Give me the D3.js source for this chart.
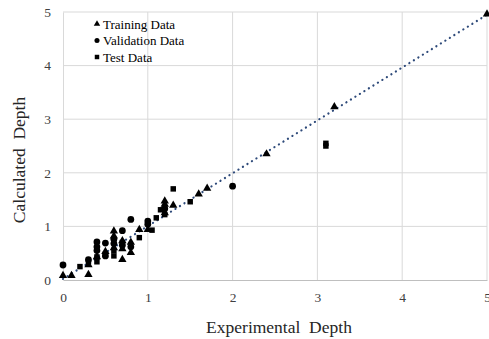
<!DOCTYPE html>
<html>
<head>
<meta charset="utf-8">
<style>
    body { margin: 0; background: #fff; }
    svg { display: block; font-family: 'Liberation Serif', 'Times New Roman', serif; }
</style>
</head>
<body>
<svg width="489" height="339"></svg>
<script src="https://d3js.org/d3.v7.min.js"></script>
<script>
    // values: [experimental, calculated]
    let training = [[0.0, 0.10], [0.1, 0.10], [0.3, 0.12], [0.3, 0.30], [0.4, 0.45], [0.5, 0.55],
        [0.6, 0.93], [0.6, 0.84], [0.6, 0.62], [0.7, 0.40], [0.7, 0.75], [0.7, 0.60], [0.8, 0.53],
        [0.8, 0.72], [0.9, 0.96], [1.0, 0.96], [1.2, 1.49], [1.2, 1.43], [1.3, 1.41], [1.2, 1.27],
        [1.6, 1.62], [1.7, 1.73], [2.4, 2.37], [3.2, 3.25], [5.0, 4.98]];
    let validation = [[0.0, 0.28], [0.3, 0.38], [0.4, 0.71], [0.4, 0.62], [0.4, 0.55], [0.5, 0.69],
        [0.5, 0.45], [0.6, 0.76], [0.6, 0.68], [0.7, 0.92], [0.7, 0.65], [0.8, 1.13], [0.8, 0.62],
        [1.0, 1.10], [1.0, 1.04], [1.2, 1.33], [2.0, 1.75]];
    let test = [[0.2, 0.25], [0.3, 0.34], [0.4, 0.43], [0.4, 0.34], [0.5, 0.48], [0.6, 0.55],
        [0.6, 0.45], [0.7, 0.70], [0.9, 0.79], [1.05, 0.93], [1.1, 1.16], [1.15, 1.31], [1.2, 1.22],
        [1.3, 1.70], [1.5, 1.46], [3.1, 2.50], [3.1, 2.55]];
    let trend = [[0, 0.02], [5, 4.95]];
    let ticks = [0, 1, 2, 3, 4, 5];
    let seriesNames = ["Training Data", "Validation Data", "Test Data"];

    let svg = d3.select("svg");
    let x = d3.scaleLinear().domain([0, 5]).range([63, 487]);
    let y = d3.scaleLinear().domain([0, 5]).range([280, 12]);

    // grid
    svg.append("g").selectAll("line").data(ticks.slice(1)).join("line")
        .attr("x1", d => x(d)).attr("x2", d => x(d))
        .attr("y1", y(0)).attr("y2", y(5))
        .style("stroke", "#d9d9d9").style("stroke-width", 1);
    svg.append("g").selectAll("line").data(ticks.slice(1)).join("line")
        .attr("x1", x(0)).attr("x2", x(5))
        .attr("y1", d => y(d)).attr("y2", d => y(d))
        .style("stroke", "#d9d9d9").style("stroke-width", 1);

    // axes
    let fmt = d3.format("d");
    let xAxis = svg.append("g").attr("transform", "translate(0," + y(0) + ")")
        .call(d3.axisBottom(x).tickValues(ticks).tickFormat(fmt).tickSize(0).tickPadding(12));
    let yAxis = svg.append("g").attr("transform", "translate(" + x(0) + ",0)")
        .call(d3.axisLeft(y).tickValues(ticks).tickFormat(fmt).tickSize(0).tickPadding(12));
    xAxis.select(".domain").style("stroke", "#bfbfbf");
    yAxis.select(".domain").style("stroke", "#d9d9d9");
    svg.selectAll(".tick text").style("font-size", "13.5px").style("fill", "#404040")
        .style("font-family", "'Liberation Serif', serif");

    // trend line
    svg.append("path")
        .datum(trend)
        .attr("d", d3.line().x(d => x(d[0])).y(d => y(d[1])))
        .style("fill", "none")
        .style("stroke", "#2e4a7a")
        .style("stroke-width", 2.2)
        .style("stroke-linecap", "round")
        .style("stroke-dasharray", "0.1 5.2");

    let tri = d3.symbol().type(d3.symbolTriangle).size(30);
    let circ = d3.symbol().type(d3.symbolCircle).size(36);
    let sq = d3.symbol().type(d3.symbolSquare).size(30);

    svg.append("g").selectAll("path").data(validation).join("path")
        .attr("d", circ).attr("transform", d => "translate(" + x(d[0]) + "," + y(d[1]) + ")")
        .style("fill", "#000");
    svg.append("g").selectAll("path").data(test).join("path")
        .attr("d", sq).attr("transform", d => "translate(" + x(d[0]) + "," + y(d[1]) + ")")
        .style("fill", "#000");
    svg.append("g").selectAll("path").data(training).join("path")
        .attr("d", tri).attr("transform", d => "translate(" + x(d[0]) + "," + (y(d[1]) + 1) + ")")
        .style("fill", "#000");

    // legend
    let shapes = [d3.symbol().type(d3.symbolTriangle).size(18), d3.symbol().type(d3.symbolCircle).size(20), d3.symbol().type(d3.symbolSquare).size(20)];
    let legend = svg.append("g").selectAll("g").data(seriesNames).join("g")
        .attr("transform", (d, i) => "translate(97," + (24 + i * 16.5) + ")");
    legend.append("path").attr("d", (d, i) => shapes[i]()).style("fill", "#000");
    legend.append("text").text(d => d)
        .attr("x", 6).attr("y", 4.5)
        .style("font-size", "13px").style("fill", "#000");

    // axis titles
    svg.append("text").text("Experimental  Depth")
        .attr("x", 279).attr("y", 333)
        .attr("text-anchor", "middle")
        .style("white-space", "pre")
        .style("font-size", "17.5px").style("fill", "#262626");
    svg.append("text").text("Calculated  Depth")
        .attr("transform", "translate(25,160) rotate(-90)")
        .attr("text-anchor", "middle")
        .style("white-space", "pre")
        .style("font-size", "17.5px").style("fill", "#262626");
</script>
</body>
</html>
